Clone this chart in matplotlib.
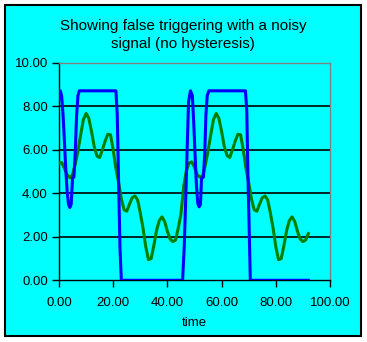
import numpy as np
import matplotlib
matplotlib.use("Agg")
import matplotlib.pyplot as plt
from matplotlib.patches import Rectangle

# ---------------------------------------------------------------
# data
# ---------------------------------------------------------------
title = "Showing false triggering with a noisy\nsignal (no hysteresis)"
x_label = "time"

# noisy input signal (green), sampled every 1 time unit, t = 0..92
signal_time = list(range(0, 93))
signal_values = [
    5.40, 5.42, 5.15, 4.85, 4.72, 4.85, 5.35, 5.95, 6.70, 7.40,
    7.68, 7.45, 6.85, 6.15, 5.72, 5.65, 6.00, 6.40, 6.72, 6.70,
    6.00, 5.15, 4.50, 3.75, 3.25, 3.18, 3.50, 3.80, 3.88, 3.70,
    3.10, 2.40, 1.55, 0.95, 1.00, 1.60, 2.30, 2.75, 2.92, 2.70,
    2.25, 1.90, 1.78, 1.85, 2.40, 3.05, 4.30, 5.05, 5.40, 5.45,
    5.20, 4.85, 4.75, 4.80, 5.30, 5.95, 6.70, 7.40, 7.68, 7.45,
    6.85, 6.15, 5.75, 5.65, 6.00, 6.40, 6.72, 6.70, 6.00, 5.15,
    4.50, 3.75, 3.25, 3.18, 3.50, 3.80, 3.88, 3.70, 3.10, 2.40,
    1.55, 0.95, 1.00, 1.60, 2.30, 2.75, 2.92, 2.70, 2.25, 1.90,
    1.78, 1.85, 2.15,
]

# comparator output (blue), breakpoints
output_time = [
    0.0, 0.5, 1.0, 1.5, 2.0, 2.5, 3.0, 3.5, 4.0, 4.5, 5.0, 5.5, 6.0, 6.5,
    7.0, 7.5, 21.0, 21.5, 22.0, 22.5, 23.0,
    45.6, 46.2, 46.8, 47.3, 47.8, 48.5, 49.2, 49.7, 50.2, 50.7, 51.2,
    51.7, 52.2, 52.6, 53.3, 53.8, 54.2, 54.7, 55.3, 68.8, 69.3, 69.7,
    70.1, 70.6, 92.0,
]
output_values = [
    8.35, 8.72, 8.45, 7.60, 6.40, 5.10, 4.10, 3.50, 3.35, 3.50, 4.70, 4.75, 5.90, 7.60,
    8.50, 8.72, 8.72, 7.60, 4.50, 1.50, 0.00,
    0.00, 1.50, 3.90, 6.10, 8.20, 8.72, 8.50, 7.30, 5.80, 4.40, 3.55,
    3.38, 3.50, 4.70, 4.75, 5.90, 7.60, 8.50, 8.72, 8.72, 7.80, 4.90,
    2.80, 0.00, 0.00,
]

y_ticks = [0, 2, 4, 6, 8, 10]
x_ticks = [0, 20, 40, 60, 80, 100]

# ---------------------------------------------------------------
# plot
# ---------------------------------------------------------------
plt.rcParams["font.family"] = ["Liberation Sans", "DejaVu Sans"]
cyan = "#00FFFF"

fig = plt.figure(figsize=(3.67, 3.42), dpi=100, facecolor="white")
fig.patches.append(Rectangle((5 / 367, 6 / 342), 356 / 367, 331 / 342,
                             transform=fig.transFigure, facecolor=cyan,
                             edgecolor="black", linewidth=1.5, zorder=-5))

ax = fig.add_axes([59 / 367, 61.7 / 342, 271 / 367, 217.3 / 342])
ax.set_zorder(1)
ax.set_facecolor(cyan)

ax.plot(signal_time, signal_values, color="#008000", linewidth=2.2, zorder=3)
ax.plot(output_time, output_values, color="#0000FF", linewidth=2.2, zorder=4)

ax.set_xlim(0, 100)
ax.set_ylim(0, 10)
ax.set_xticks(x_ticks)
ax.set_yticks(y_ticks)
ax.set_xticklabels(["%.2f" % v for v in x_ticks])
ax.set_yticklabels(["%.2f" % v for v in y_ticks])
ax.tick_params(direction="out", length=5, width=1, labelsize=9.5)
ax.tick_params(axis="x", pad=7)
ax.tick_params(axis="y", pad=3)

for gy in [2, 4, 6, 8]:
    ax.axhline(gy, color="black", linewidth=1.2, zorder=1)

ax.spines["left"].set_color("black")
ax.spines["bottom"].set_color("black")
ax.spines["top"].set_color("#808080")
ax.spines["right"].set_color("#808080")
for s in ax.spines.values():
    s.set_linewidth(1.0)

ax.set_xlabel(x_label, fontsize=9.5, labelpad=6)
fig.text(183 / 367, 1 - 35 / 342, title, ha="center", va="center",
         fontsize=11, linespacing=1.3)

fig.savefig("out.png", dpi=100, facecolor="white")
